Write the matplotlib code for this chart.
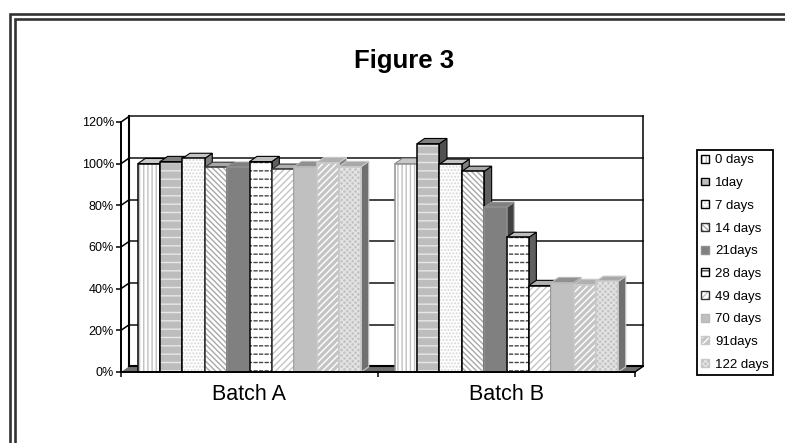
import matplotlib
matplotlib.use("Agg")
import matplotlib.pyplot as plt
from matplotlib.legend_handler import HandlerTuple
from matplotlib.lines import Line2D
from matplotlib.patches import Patch, Polygon, Rectangle

plt.rcParams["font.family"] = ["Liberation Sans", "DejaVu Sans"]
plt.rcParams["hatch.linewidth"] = 1.0

# ---------- data ----------
batches = ["Batch A", "Batch B"]
labels = ["0 days", "1day", "7 days", "14 days", "21days", "28 days",
          "49 days", "70 days", "91days", "122 days"]
batch_a = [100, 101, 102.5, 98.2, 98.2, 101, 97.3, 98.6, 100.5, 98.6]
batch_b = [100, 109.6, 99.7, 96.3, 79, 64.6, 41.5, 42.9, 42, 43.5]
yticks = [0, 20, 40, 60, 80, 100, 120]

# ---------- styles per series ----------
faces = ["white", "#bdbdbd", "white", "white", "#808080", "white",
         "white", "#c0c0c0", "#c4c4c4", "#c4c4c4"]
hatch_cols = ["#c0c0c0", "#e8e8e8", "#d8d8d8", "#a8a8a8", "#808080", "#444444",
              "#c4c4c4", "#c0c0c0", "white", "#e4e4e4"]
hatches = ["||||", "--", ".....", "\\" * 6, None, "--",
           "/" * 5, None, "/" * 5, "xxxxxx"]
tops = ["#c8c8c8", "#808080", "#c4c4c4", "#a8a8a8", "#808080", "#bdbdbd",
        "#b0b0b0", "#909090", "#b0b0b0", "#a8a8a8"]
sides = ["#909090", "#505050", "#808080", "#606060", "#404040", "#606060",
         "#6a6a6a", "#808080", "#808080", "#707070"]
edges_a = ["black", "black", "black", "#333333", "#909090", "black",
           "#333333", "#b8b8b8", "#c8c8c8", "#c8c8c8"]
edges_b = ["#909090", "black", "black", "black", "#909090", "black",
           "black", "#b8b8b8", "#c8c8c8", "#c8c8c8"]

W, H = 785, 443
wall_dx, wall_dy = 8 / 257, 5.5 / 2.083   # back wall offset, data units
bar_dx, bar_dy = 7.5 / 257, 5.2 / 2.083   # bar depth
bar_w = 1 / (len(labels) * 1.15)

fig = plt.figure(figsize=(W / 100, H / 100), dpi=100)
ax = fig.add_axes([121 / W, (H - 372) / H, 514 / W, 250 / H])
ax.set_xlim(0, 2)
ax.set_ylim(0, 120)
ax.patch.set_visible(False)

# back wall, floor and the walls' edges
for v in yticks[1:]:
    ax.plot([wall_dx, 2 + wall_dx], [v + wall_dy] * 2, color="#111111", lw=1.1,
            clip_on=False, zorder=1)
    ax.plot([0, wall_dx], [v, v + wall_dy], color="black", lw=1.1,
            clip_on=False, zorder=1)
ax.add_patch(Polygon([(0, 0), (2, 0), (2 + wall_dx, wall_dy), (wall_dx, wall_dy)],
                     facecolor="#707070", edgecolor="none", clip_on=False, zorder=1))
ax.plot([wall_dx, 2 + wall_dx], [wall_dy, wall_dy], color="black", lw=1.5,
        clip_on=False, zorder=1.5)
ax.plot([2, 2 + wall_dx], [0, wall_dy], color="black", lw=1.0, clip_on=False, zorder=1.5)
ax.plot([wall_dx, wall_dx], [wall_dy, 120 + wall_dy], color="black", lw=1.5,
        clip_on=False, zorder=1.5)
ax.plot([2 + wall_dx] * 2, [wall_dy, 120 + wall_dy], color="black", lw=1.1,
        clip_on=False, zorder=1.5)

# bars, left to right so that each one covers its neighbour's side
z = 2
for b, (vals, edges) in enumerate(zip([batch_a, batch_b], [edges_a, edges_b])):
    start = b + 0.5 - bar_w * len(vals) / 2
    for i, v in enumerate(vals):
        x = start + i * bar_w
        ax.add_patch(Polygon([(x + bar_w, 0), (x + bar_w + bar_dx, bar_dy),
                              (x + bar_w + bar_dx, v + bar_dy), (x + bar_w, v)],
                             facecolor=sides[i], edgecolor=edges[i], lw=0.8,
                             clip_on=False, zorder=z))
        ax.add_patch(Polygon([(x, v), (x + bar_dx, v + bar_dy),
                              (x + bar_w + bar_dx, v + bar_dy), (x + bar_w, v)],
                             facecolor=tops[i], edgecolor=edges[i], lw=0.8,
                             clip_on=False, zorder=z))
        ax.bar(x, v, bar_w, align="edge", color=faces[i], edgecolor=hatch_cols[i],
               hatch=hatches[i], lw=0, zorder=z)
        if labels[i] == "28 days":
            # break the rows of this pattern up into dashes
            ax.bar(x, v, bar_w, align="edge", color="none", edgecolor="white",
                   hatch="|||", lw=0, zorder=z)
        ax.add_patch(Rectangle((x, 0), bar_w, v, fill=False, edgecolor=edges[i],
                               lw=1.1, clip_on=False, zorder=z))
        z += 0.1

# front axes with real ticks
for s in ["top", "right"]:
    ax.spines[s].set_visible(False)
for s in ["left", "bottom"]:
    ax.spines[s].set_linewidth(1.4)
    ax.spines[s].set_zorder(z)
ax.set_yticks(yticks)
ax.set_yticklabels([f"{v}%" for v in yticks], fontsize=9)
ax.tick_params(axis="y", length=3.5, width=1.1, pad=1.5, color="black")
ax.set_xticks([0, 1, 2])
ax.set_xticklabels([])
ax.set_xticks([0.5, 1.5], minor=True)
ax.set_xticklabels(batches, minor=True, fontsize=15.5)
ax.tick_params(axis="x", which="major", length=3.5, width=1.1)
ax.tick_params(axis="x", which="minor", length=0, pad=9)

fig.text(404 / W, (H - 61) / H, "Figure 3", fontsize=18.5, fontweight="bold",
         ha="center", va="center")

# each swatch is the pattern with a separate outline on top of it
handles = [(Patch(facecolor=faces[i], edgecolor=hatch_cols[i], hatch=hatches[i], lw=0),
            Patch(fill=False, edgecolor=edges_a[i], lw=1.0))
           for i in range(len(labels))]
leg = fig.legend(handles, labels, loc="lower left",
                 handler_map={tuple: HandlerTuple(ndivide=1, pad=0)},
                 bbox_to_anchor=(697 / W, (H - 375) / H), bbox_transform=fig.transFigure,
                 fontsize=9.5, fancybox=False, framealpha=1, edgecolor="black",
                 handlelength=0.55, handleheight=0.55, handletextpad=0.5,
                 labelspacing=0.81, borderpad=0.33, borderaxespad=0)
leg.get_frame().set_linewidth(1.3)

# double page border, running off the top right and bottom left
for x0, y0 in [(9.8, 14), (14.8, 18.8)]:
    fig.add_artist(Line2D([x0 / W, x0 / W, 1], [0, (H - y0) / H, (H - y0) / H],
                          color="#333333", lw=1.9, solid_joinstyle="miter"))

fig.savefig("out.png", dpi=100)
